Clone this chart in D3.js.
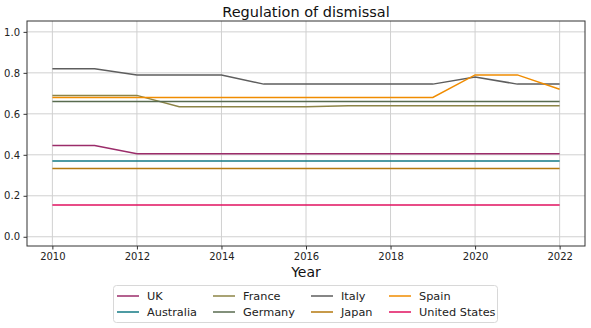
<!DOCTYPE html>
<html>
<head>
<meta charset="utf-8">
<script src="https://cdn.jsdelivr.net/npm/d3@7"></script>
<style>
body { margin: 0; background: #fff; }
svg { font-family: "DejaVu Sans", sans-serif; }
</style>
</head>
<body>
<svg id="chart" width="591" height="328"></svg>
<script>
var years = [2010, 2011, 2012, 2013, 2014, 2015, 2016, 2017, 2018, 2019, 2020, 2021, 2022];

var uk = [0.445, 0.445, 0.405, 0.405, 0.405, 0.405, 0.405, 0.405, 0.405, 0.405, 0.405, 0.405, 0.405];
var australia = [0.37, 0.37, 0.37, 0.37, 0.37, 0.37, 0.37, 0.37, 0.37, 0.37, 0.37, 0.37, 0.37];
var france = [0.69, 0.69, 0.69, 0.635, 0.635, 0.635, 0.635, 0.64, 0.64, 0.64, 0.64, 0.64, 0.64];
var germany = [0.66, 0.66, 0.66, 0.66, 0.66, 0.66, 0.66, 0.66, 0.66, 0.66, 0.66, 0.66, 0.66];
var italy = [0.82, 0.82, 0.79, 0.79, 0.79, 0.745, 0.745, 0.745, 0.745, 0.745, 0.78, 0.745, 0.745];
var japan = [0.333, 0.333, 0.333, 0.333, 0.333, 0.333, 0.333, 0.333, 0.333, 0.333, 0.333, 0.333, 0.333];
var spain = [0.68, 0.68, 0.68, 0.68, 0.68, 0.68, 0.68, 0.68, 0.68, 0.68, 0.79, 0.79, 0.72];
var unitedStates = [0.155, 0.155, 0.155, 0.155, 0.155, 0.155, 0.155, 0.155, 0.155, 0.155, 0.155, 0.155, 0.155];

var countries = ["UK", "Australia", "France", "Germany", "Italy", "Japan", "Spain", "United States"];
var seriesValues = [uk, australia, france, germany, italy, japan, spain, unitedStates];
var colors = ["#9b2c6a", "#137a84", "#8c8446", "#586b4f", "#5e5e5e", "#b5790e", "#f08c00", "#e0115f"];

var xTicks = [2010, 2012, 2014, 2016, 2018, 2020, 2022];
var yTicks = [0.0, 0.2, 0.4, 0.6, 0.8, 1.0];

var svg = d3.select("#chart");
var margin = { left: 27, right: 6, top: 21, bottom: 82 };
var W = 591, H = 328;

var x = d3.scaleLinear().domain([2009.4, 2022.6]).range([margin.left, W - margin.right]);
var y = d3.scaleLinear().domain([-0.045, 1.053]).range([H - margin.bottom, margin.top]);

// grid
var grid = svg.append("g");
grid.selectAll(".gx").data(xTicks).enter().append("line")
	.attr("x1", function(d) { return x(d); }).attr("x2", function(d) { return x(d); })
	.attr("y1", margin.top).attr("y2", H - margin.bottom)
	.attr("stroke", "#d0d0d0").attr("stroke-width", 1);
grid.selectAll(".gy").data(yTicks).enter().append("line")
	.attr("y1", function(d) { return y(d); }).attr("y2", function(d) { return y(d); })
	.attr("x1", margin.left).attr("x2", W - margin.right)
	.attr("stroke", "#d0d0d0").attr("stroke-width", 1);

// axes
var xAxis = svg.append("g")
	.attr("transform", "translate(0," + (H - margin.bottom) + ")")
	.call(d3.axisBottom(x).tickValues(xTicks).tickFormat(d3.format("d")).tickSize(3.5).tickPadding(3.5));
var yAxis = svg.append("g")
	.attr("transform", "translate(" + margin.left + ",0)")
	.call(d3.axisLeft(y).tickValues(yTicks).tickFormat(d3.format(".1f")).tickSize(3.5).tickPadding(3.5));
[xAxis, yAxis].forEach(function(a) {
	a.select(".domain").remove();
	a.selectAll("text").attr("font-size", 10).attr("fill", "#222").attr("font-family", "DejaVu Sans");
	a.selectAll("line").attr("stroke", "#333");
});

// lines
var line = d3.line()
	.x(function(d, i) { return x(years[i]); })
	.y(function(d) { return y(d); });

svg.append("g").selectAll("path").data(seriesValues).enter().append("path")
	.attr("d", line)
	.attr("fill", "none")
	.attr("stroke", function(d, i) { return colors[i]; })
	.attr("stroke-width", 1.5);

// frame
svg.append("rect")
	.attr("x", margin.left).attr("y", margin.top)
	.attr("width", W - margin.right - margin.left)
	.attr("height", H - margin.bottom - margin.top)
	.attr("fill", "none").attr("stroke", "#333").attr("stroke-width", 1);

svg.append("text")
	.attr("x", (margin.left + W - margin.right) / 2).attr("y", 17)
	.attr("text-anchor", "middle").attr("font-size", 14.5).attr("fill", "#111")
	.text("Regulation of dismissal");

svg.append("text")
	.attr("x", (margin.left + W - margin.right) / 2).attr("y", 277)
	.attr("text-anchor", "middle").attr("font-size", 14).attr("fill", "#111")
	.text("Year");

// legend, column-major 2 rows x 4 columns
var legend = svg.append("g");
legend.append("rect")
	.attr("x", 113.5).attr("y", 285.5).attr("width", 384).attr("height", 37).attr("rx", 3)
	.attr("fill", "#fff").attr("stroke", "#d8d8d8");
var colX = [117, 213, 311, 389];
var rowY = [296, 312];
var items = legend.selectAll(".item").data(countries).enter().append("g")
	.attr("transform", function(d, i) {
		return "translate(" + colX[Math.floor(i / 2)] + "," + rowY[i % 2] + ")";
	});
items.append("line")
	.attr("x1", 0).attr("x2", 22).attr("y1", 0).attr("y2", 0)
	.attr("stroke", function(d, i) { return colors[i]; }).attr("stroke-width", 1.5);
items.append("text")
	.attr("x", 30).attr("y", 4.3).attr("font-size", 11.3).attr("fill", "#222")
	.text(function(d) { return d; });
</script>
</body>
</html>
